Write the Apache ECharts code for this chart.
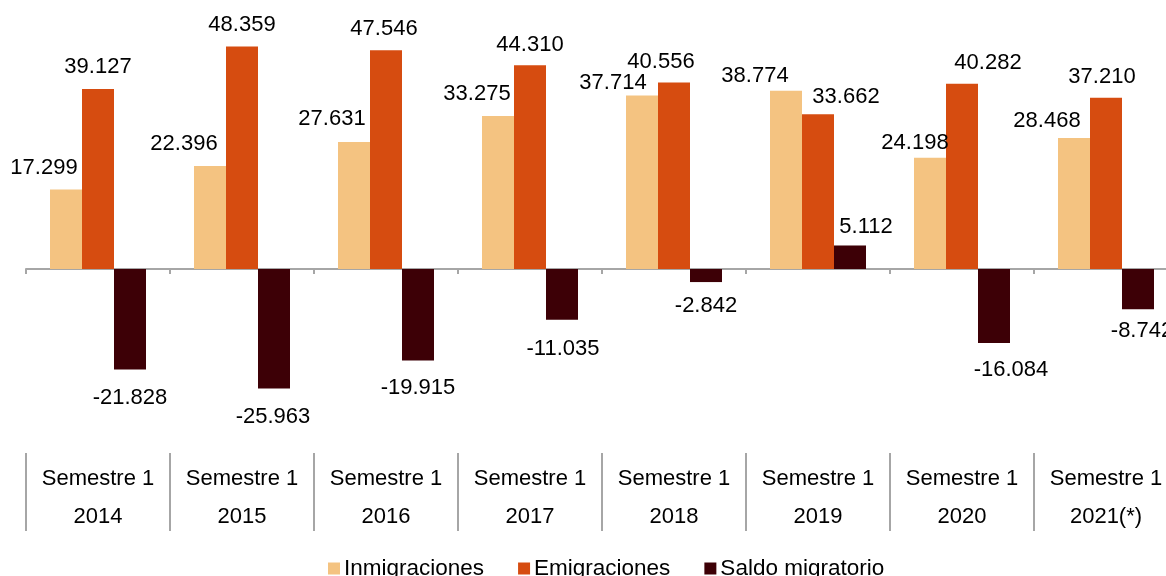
<!DOCTYPE html>
<html lang="es">
<head>
  <meta charset="UTF-8">
  <title>Migraciones</title>
  <script src="https://cdn.jsdelivr.net/npm/echarts@6/dist/echarts.min.js"></script>
  <style type="text/css">
    html, body { margin: 0; padding: 0; background: #ffffff; }
    #chart { width: 1166px; height: 576px; }
  </style>
</head>
<body>
<div id="chart"></div>
<script type="text/javascript">
// datos
var periodos = ['Semestre 1\n2014', 'Semestre 1\n2015', 'Semestre 1\n2016', 'Semestre 1\n2017',
                'Semestre 1\n2018', 'Semestre 1\n2019', 'Semestre 1\n2020', 'Semestre 1\n2021(*)'];
var inmigraciones = [17.299, 22.396, 27.631, 33.275, 37.714, 38.774, 24.198, 28.468];
var emigraciones = [39.127, 48.359, 47.546, 44.310, 40.556, 33.662, 40.282, 37.210];
var saldo = [-21.828, -25.963, -19.915, -11.035, -2.842, 5.112, -16.084, -8.742];

// desplazamiento de las etiquetas (como en el original, colocadas a mano)
var dxInm = [-22, -26, -22, -21, -29, -31, -15, -27];
var gapInm = [21, 22, 23, 22, 13, 15, 15, 17];
var dxEmi = [0, 0, -2, 0, -13, 28, 26, -4];
var gapEmi = [22, 22, 21, 20, 21, 17, 21, 21];
var dxSal = [0, -1, 0, 1, 0, 16, 17, 4];
var gapSal = [29, 29, 27, 29, 24, 19, 27, 22];

function fmt(v) {
  var s = Math.abs(v).toFixed(3);
  return (v < 0 ? '-' : '') + s;
}

function items(vals, dx, gap) {
  var out = [];
  for (var i = 0; i < vals.length; i++) {
    var v = vals[i];
    out.push({
      value: v,
      label: {
        position: v >= 0 ? 'top' : 'bottom',
        distance: gap[i] - 11,
        offset: [dx[i], 0]
      }
    });
  }
  return out;
}

var font = 'Liberation Sans, Arial, sans-serif';
var labelCfg = {
  show: true,
  color: '#000000',
  fontSize: 22,
  fontFamily: font,
  formatter: function (p) { return fmt(p.value); }
};

var myChart = echarts.init(document.getElementById('chart'));
var option = {
  animation: false,
  backgroundColor: '#ffffff',
  grid: { left: 26, width: 1152, top: 39, height: 414, outerBoundsMode: 'none', containLabel: false },
  legend: {
    left: 323,
    top: 552,
    itemWidth: 12,
    itemHeight: 12,
    itemGap: 34,
    icon: 'rect',
    textStyle: { fontSize: 22.5, color: '#000000', fontFamily: font, padding: [0, 0, 0, -1] },
    data: ['Inmigraciones', 'Emigraciones', 'Saldo migratorio']
  },
  xAxis: [
    {
      type: 'category',
      data: periodos,
      axisLine: { onZero: true, lineStyle: { color: '#a6a6a6', width: 2 } },
      axisTick: { show: true, length: 5, lineStyle: { color: '#a6a6a6', width: 2 } },
      axisLabel: { show: false }
    },
    {
      type: 'category',
      data: periodos,
      position: 'bottom',
      axisLine: { show: false, onZero: false },
      axisTick: { show: true, length: 78, lineStyle: { color: '#a6a6a6', width: 2 } },
      axisLabel: {
        show: true,
        interval: 0,
        margin: 7,
        color: '#000000',
        fontSize: 22,
        lineHeight: 38,
        fontFamily: font
      }
    }
  ],
  yAxis: {
    type: 'value',
    min: -40,
    max: 50,
    show: false,
    splitLine: { show: false }
  },
  series: [
    {
      name: 'Inmigraciones',
      type: 'bar',
      barWidth: 32,
      barGap: 0,
      itemStyle: { color: '#f4c381' },
      label: labelCfg,
      data: items(inmigraciones, dxInm, gapInm)
    },
    {
      name: 'Emigraciones',
      type: 'bar',
      barWidth: 32,
      barGap: 0,
      itemStyle: { color: '#d64c10' },
      label: labelCfg,
      data: items(emigraciones, dxEmi, gapEmi)
    },
    {
      name: 'Saldo migratorio',
      type: 'bar',
      barWidth: 32,
      barGap: 0,
      itemStyle: { color: '#3d0006' },
      label: labelCfg,
      data: items(saldo, dxSal, gapSal)
    }
  ]
};
myChart.setOption(option);
</script>
</body>
</html>
